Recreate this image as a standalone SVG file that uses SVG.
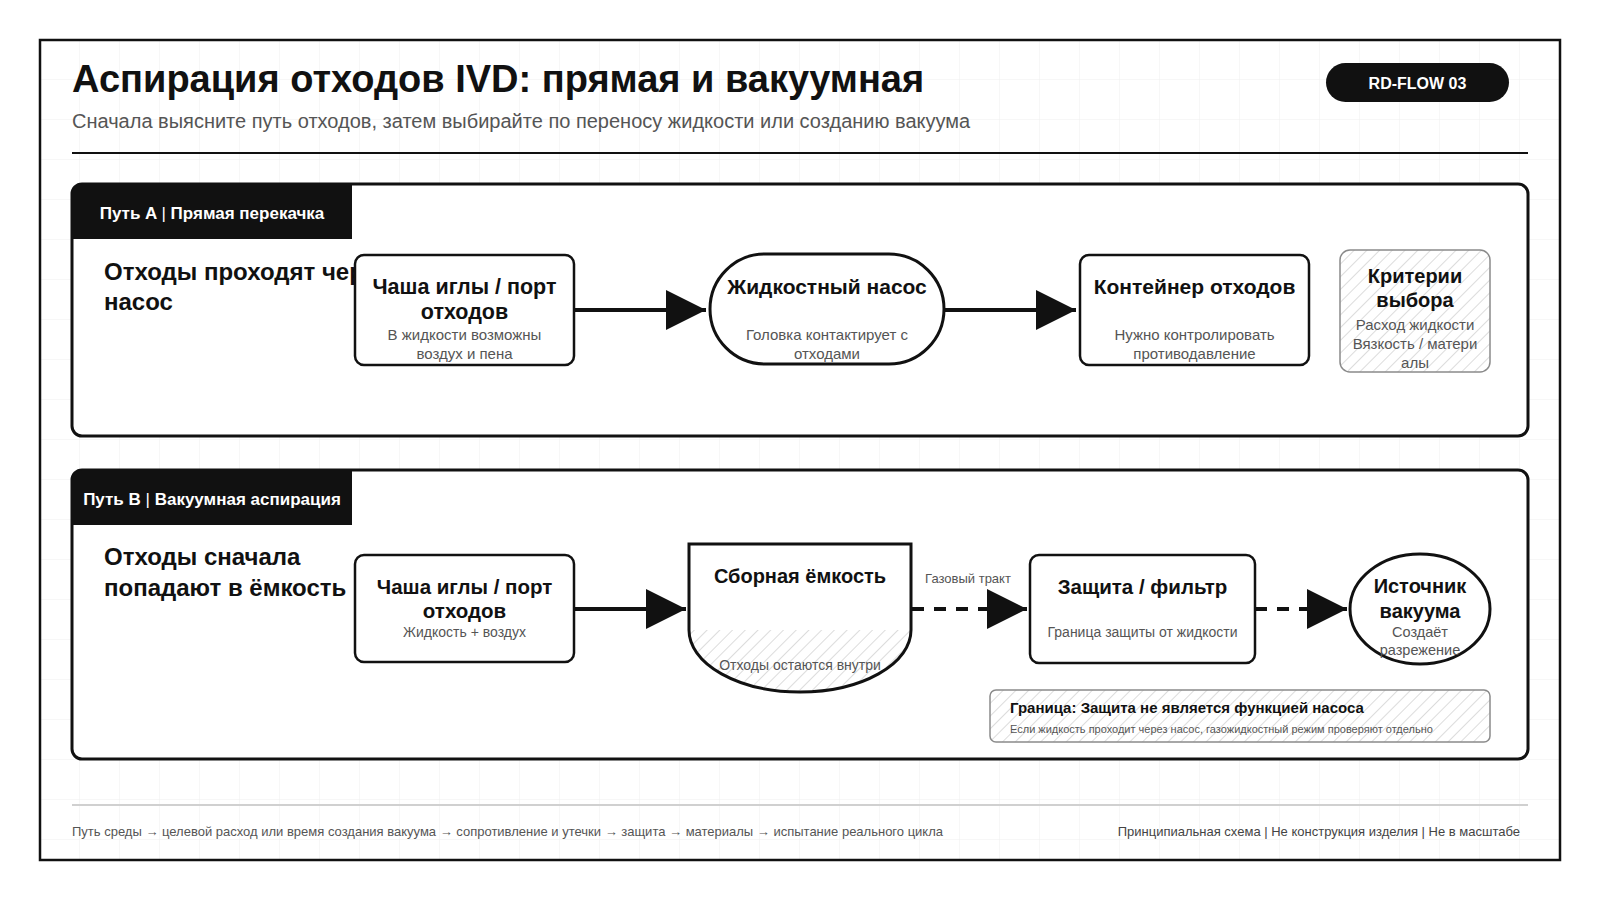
<svg xmlns="http://www.w3.org/2000/svg" width="1600" height="900" viewBox="0 0 1600 900">
  <defs>
    <pattern id="grid" width="40" height="40" patternUnits="userSpaceOnUse">
      <path d="M40,0 V40 M0,40 H40" fill="none" stroke="#efefef" stroke-width="1"/>
    </pattern>
    <pattern id="hatch" width="9" height="9" patternUnits="userSpaceOnUse" patternTransform="rotate(45)">
      <line x1="0" y1="0" x2="0" y2="9" stroke="#c4c4c4" stroke-width="1.2"/>
    </pattern>
    <marker id="arrow" markerUnits="userSpaceOnUse" markerWidth="40" markerHeight="40" refX="40" refY="20" orient="auto" viewBox="0 0 40 40">
      <path d="M0,0 L40,20 L0,40 Z" fill="#111"/>
    </marker>
    <clipPath id="bowlClip">
      <path d="M689,544 H911 V630 A111,62 0 0 1 689,630 Z"/>
    </clipPath>
    <style>
      .sans { font-family: "Liberation Sans", Arial, sans-serif; }
      .title { font-family: "Liberation Sans", Arial, sans-serif; font-size: 38px; font-weight: 700; fill: #111; }
      .subtitle { font-family: "Liberation Sans", Arial, sans-serif; font-size: 20px; fill: #555; }
      .tabtext { font-family: "Liberation Sans", Arial, sans-serif; font-size: 17px; font-weight: 700; fill: #fff; }
      .heading { font-family: "Liberation Sans", Arial, sans-serif; font-size: 24px; font-weight: 700; fill: #111; }
      .ntitle { font-family: "Liberation Sans", Arial, sans-serif; font-size: 20px; font-weight: 700; fill: #111; text-anchor: middle; }
      .nt21 { font-size: 21px; }
      .nt215 { font-size: 21.5px; }
      .nt205 { font-size: 20.5px; }
      .nsub { font-family: "Liberation Sans", Arial, sans-serif; font-size: 14px; fill: #555; text-anchor: middle; }
      .ns15 { font-size: 15px; }
      .ns145 { font-size: 14.5px; }
      .node { fill: #fff; stroke: #111; stroke-width: 2.5; }
      .thick { stroke-width: 3; }
      .section { fill: #fff; stroke: #111; stroke-width: 3; }
      .conn { fill: none; stroke: #111; stroke-width: 4; marker-end: url(#arrow); }
      .dashed { stroke-dasharray: 12 10; }
      .foot { font-family: "Liberation Sans", Arial, sans-serif; font-size: 13px; fill: #555; }
      .footr { fill: #444; text-anchor: end; }
    </style>
  </defs>

  <rect x="0" y="0" width="1600" height="900" fill="#fff"/>
  <rect x="40" y="40" width="1520" height="820" fill="url(#grid)"/>
  <rect x="40" y="40" width="1520" height="820" fill="none" stroke="#111" stroke-width="2.5"/>

  <g id="header">
    <text class="title" x="72" y="92">Аспирация отходов IVD: прямая и вакуумная</text>
    <text class="subtitle" x="72" y="128">Сначала выясните путь отходов, затем выбирайте по переносу жидкости или созданию вакуума</text>
    <line x1="72" y1="153" x2="1528" y2="153" stroke="#111" stroke-width="2"/>
    <rect x="1326" y="63" width="183" height="39" rx="19.5" fill="#111"/>
    <text class="sans" x="1417.5" y="89" font-size="16" font-weight="700" fill="#fff" text-anchor="middle">RD-FLOW 03</text>
  </g>

  <g id="sectionA">
    <rect class="section" x="72" y="184" width="1456" height="252" rx="10"/>
    <path d="M72,194 A10,10 0 0 1 82,184 H352 V239 H72 Z" fill="#111"/>
    <text class="tabtext" x="212" y="219" text-anchor="middle">Путь A <tspan style="font-weight:400">|</tspan> Прямая перекачка</text>
    <text class="heading" x="104" y="280">Отходы проходят через</text>
    <text class="heading" x="104" y="310">насос</text>
  </g>

  <g id="sectionB">
    <rect class="section" x="72" y="470" width="1456" height="289" rx="10"/>
    <path d="M72,480 A10,10 0 0 1 82,470 H352 V525 H72 Z" fill="#111"/>
    <text class="tabtext" x="212" y="505" text-anchor="middle">Путь B <tspan style="font-weight:400">|</tspan> Вакуумная аспирация</text>
    <text class="heading" x="104" y="565">Отходы сначала</text>
    <text class="heading" x="104" y="596">попадают в ёмкость</text>
  </g>

  <g id="connectors">
    <line class="conn" x1="575" y1="310" x2="706" y2="310"/>
    <line class="conn" x1="944" y1="310" x2="1076" y2="310"/>
    <line class="conn" x1="574" y1="609" x2="686" y2="609"/>
    <line class="conn dashed" x1="912" y1="609" x2="1027" y2="609"/>
    <text class="sans" x="968" y="583" font-size="13" fill="#555" text-anchor="middle">Газовый тракт</text>
    <line class="conn dashed" x1="1255" y1="609" x2="1347" y2="609"/>
  </g>

  <g id="nodeA1">
    <rect class="node" x="355" y="255" width="219" height="110" rx="9"/>
    <text class="ntitle nt215" x="464.5" y="294">Чаша иглы / порт</text>
    <text class="ntitle nt215" x="464.5" y="319">отходов</text>
    <text class="nsub ns15" x="464.5" y="340">В жидкости возможны</text>
    <text class="nsub ns15" x="464.5" y="359">воздух и пена</text>
  </g>

  <g id="nodePump">
    <rect class="node thick" x="710" y="254" width="234" height="110" rx="55"/>
    <text class="ntitle nt21" x="827" y="294">Жидкостный насос</text>
    <text class="nsub ns15" x="827" y="340">Головка контактирует с</text>
    <text class="nsub ns15" x="827" y="359">отходами</text>
  </g>

  <g id="nodeContainer">
    <rect class="node" x="1080" y="255" width="229" height="110" rx="9"/>
    <text class="ntitle nt21" x="1194.5" y="294">Контейнер отходов</text>
    <text class="nsub ns15" x="1194.5" y="340">Нужно контролировать</text>
    <text class="nsub ns15" x="1194.5" y="359">противодавление</text>
  </g>

  <g id="nodeCriteria">
    <rect x="1340" y="250" width="150" height="122" rx="10" fill="#fff"/>
    <rect x="1340" y="250" width="150" height="122" rx="10" fill="url(#hatch)" stroke="#8a8a8a" stroke-width="1.5"/>
    <text class="ntitle" x="1415" y="283">Критерии</text>
    <text class="ntitle" x="1415" y="307">выбора</text>
    <text class="nsub ns15" x="1415" y="330">Расход жидкости</text>
    <text class="nsub ns15" x="1415" y="349">Вязкость / матери</text>
    <text class="nsub ns15" x="1415" y="368">алы</text>
  </g>

  <g id="nodeB1">
    <rect class="node" x="355" y="555" width="219" height="107" rx="9"/>
    <text class="ntitle nt205" x="464.5" y="594">Чаша иглы / порт</text>
    <text class="ntitle nt205" x="464.5" y="618">отходов</text>
    <text class="nsub" x="464.5" y="637">Жидкость + воздух</text>
  </g>

  <g id="nodeReservoir">
    <path d="M689,544 H911 V630 A111,62 0 0 1 689,630 Z" fill="#fff"/>
    <rect x="689" y="630" width="222" height="64" fill="url(#hatch)" clip-path="url(#bowlClip)"/>
    <path d="M689,544 H911 V630 A111,62 0 0 1 689,630 Z" fill="none" stroke="#111" stroke-width="3"/>
    <text class="ntitle" x="800" y="583">Сборная ёмкость</text>
    <text class="nsub" x="800" y="670">Отходы остаются внутри</text>
  </g>

  <g id="nodeFilter">
    <rect class="node" x="1030" y="555" width="225" height="108" rx="9"/>
    <text class="ntitle nt205" x="1142.5" y="594">Защита / фильтр</text>
    <text class="nsub" x="1142.5" y="637">Граница защиты от жидкости</text>
  </g>

  <g id="nodeVacuum">
    <ellipse class="node thick" cx="1420" cy="609" rx="70" ry="55"/>
    <text class="ntitle" x="1420" y="593">Источник</text>
    <text class="ntitle" x="1420" y="618">вакуума</text>
    <text class="nsub ns145" x="1420" y="637">Создаёт</text>
    <text class="nsub ns145" x="1420" y="655">разрежение</text>
  </g>

  <g id="noteBoundary">
    <rect x="990" y="690" width="500" height="52" rx="6" fill="#fff"/>
    <rect x="990" y="690" width="500" height="52" rx="6" fill="url(#hatch)" stroke="#8a8a8a" stroke-width="1.5"/>
    <text class="sans" x="1010" y="713" font-size="15" font-weight="700" fill="#111">Граница: Защита не является функцией насоса</text>
    <text class="sans" x="1010" y="733" font-size="11" fill="#555">Если жидкость проходит через насос, газожидкостный режим проверяют отдельно</text>
  </g>

  <g id="footer">
    <line x1="72" y1="805" x2="1528" y2="805" stroke="#d0d0d0" stroke-width="2"/>
    <text class="foot" x="72" y="836">Путь среды → целевой расход или время создания вакуума → сопротивление и утечки → защита → материалы → испытание реального цикла</text>
    <text class="foot footr" x="1520" y="836">Принципиальная схема | Не конструкция изделия | Не в масштабе</text>
  </g>
</svg>
